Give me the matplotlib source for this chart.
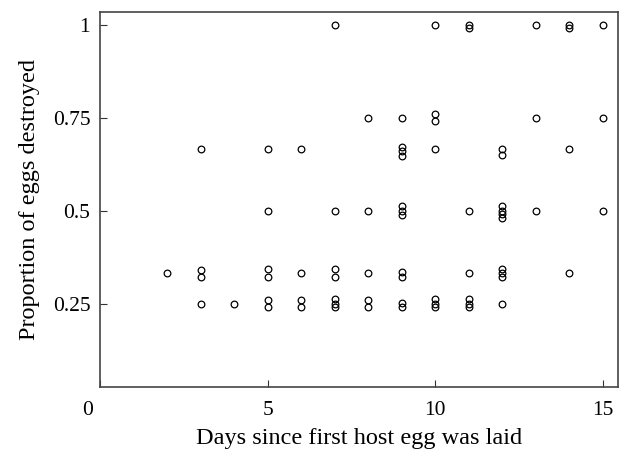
import numpy as np
import matplotlib.pyplot as plt
import matplotlib.transforms as mtransforms

plt.rcParams['font.family'] = ['Liberation Serif', 'DejaVu Serif']

# data (stacked points kept with their small offsets)
days = [2,
        3, 3, 3, 3,
        4,
        5, 5, 5, 5, 5, 5,
        6, 6, 6, 6,
        7, 7, 7, 7, 7, 7, 7,
        8, 8, 8, 8, 8,
        9, 9, 9, 9, 9, 9, 9, 9, 9, 9, 9,
        10, 10, 10, 10, 10, 10, 10,
        11, 11, 11, 11, 11, 11, 11,
        12, 12, 12, 12, 12, 12, 12, 12, 12, 12,
        13, 13, 13,
        14, 14, 14, 14,
        15, 15, 15]
prop = [0.333,
        0.667, 0.34, 0.322, 0.25,
        0.25,
        0.667, 0.5, 0.342, 0.322, 0.26, 0.24,
        0.667, 0.333, 0.26, 0.24,
        1.0, 0.5, 0.342, 0.322, 0.262, 0.25, 0.24,
        0.75, 0.5, 0.333, 0.26, 0.24,
        0.75, 0.672, 0.66, 0.648, 0.512, 0.5, 0.488, 0.335, 0.322, 0.252, 0.242,
        1.0, 0.76, 0.74, 0.667, 0.262, 0.25, 0.24,
        1.0, 0.99, 0.5, 0.333, 0.262, 0.25, 0.24,
        0.667, 0.65, 0.512, 0.5, 0.49, 0.48, 0.342, 0.333, 0.322, 0.25,
        1.0, 0.75, 0.5,
        1.0, 0.99, 0.667, 0.333,
        1.0, 0.75, 0.5]

xticks = [0, 5, 10, 15]
yticks = [0.25, 0.5, 0.75, 1]
ytick_labels = ['0.25', '0.5', '0.75', '1']

fig = plt.figure(figsize=(6.27, 4.55), dpi=100)
ax = fig.add_axes([0.1595, 0.1495, 0.826, 0.824])

ax.plot(days, prop, 'o', markersize=4.8, markerfacecolor='none',
        markeredgecolor='black', markeredgewidth=0.9)

ax.set_xlim(0, 15.45)
ax.set_ylim(0.026, 1.034)
ax.set_xticks(xticks)
ax.set_yticks(yticks)
ax.set_yticklabels(ytick_labels)
ax.tick_params(direction='in', length=5, width=0.8, labelsize=15.5,
               color='#333333')
ax.tick_params(axis='x', pad=10)
ax.tick_params(axis='y', pad=7)

# the corner "0" sits a little left of the spine
offset = mtransforms.ScaledTranslation(-12 / 100, 0, fig.dpi_scale_trans)
lab0 = ax.get_xticklabels()[0]
lab0.set_transform(lab0.get_transform() + offset)

for s in ax.spines.values():
    s.set_color('#444444')
    s.set_linewidth(1.2)

ax.set_xlabel('Days since first host egg was laid', fontsize=17.5, labelpad=6)
ax.set_ylabel('Proportion of eggs destroyed', fontsize=17.5, labelpad=9)

fig.savefig('out.png', dpi=100)
